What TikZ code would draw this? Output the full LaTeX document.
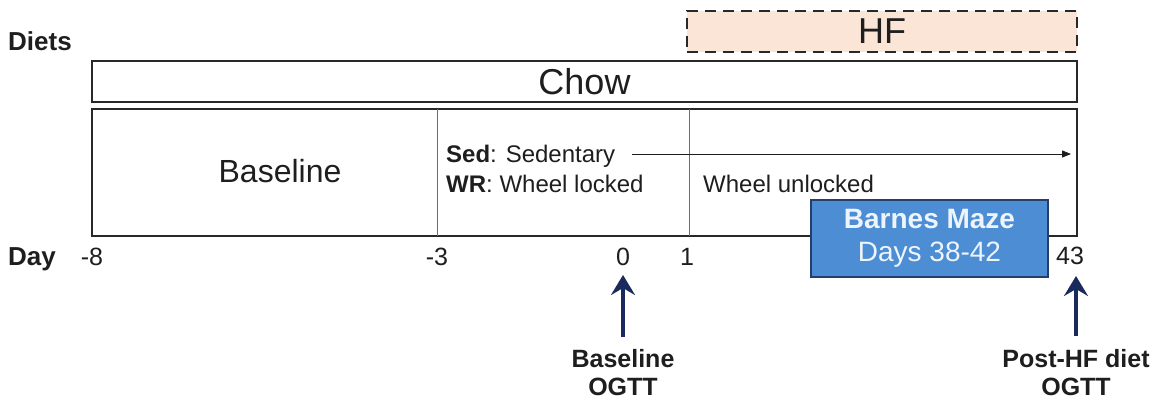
\documentclass[tikz,border=0pt]{standalone}
\usepackage{fontspec}
\setmainfont{Liberation Sans}
\usetikzlibrary{arrows.meta}
\definecolor{txt}{RGB}{30,30,30}
\definecolor{frame}{RGB}{40,40,40}
\definecolor{peach}{RGB}{251,229,214}
\definecolor{bmfill}{RGB}{76,141,212}
\definecolor{bmdraw}{RGB}{36,62,110}
\definecolor{bmtext}{RGB}{238,244,252}
\definecolor{navy}{RGB}{26,42,92}
\definecolor{divider}{RGB}{110,110,110}
\tikzset{
  lbl/.style={inner sep=0pt, text=txt},
  barbox/.style={draw=frame, line width=2.5pt, inner sep=0pt, text=txt},
  hfbox/.style={barbox, fill=peach, dash pattern=on 11pt off 7pt},
  bmbox/.style={draw=bmdraw, line width=1.5pt, fill=bmfill, text=bmtext, inner sep=0pt, align=center},
  upar/.style={draw=navy, line width=3.5pt, -{Stealth[length=20pt,width=24pt,inset=7pt]}},
  thinar/.style={draw=txt, line width=0.9pt, -{Triangle[length=9pt,width=7pt]}},
  divline/.style={draw=divider, line width=0.9pt}
}
\begin{document}
\begin{tikzpicture}[x=1pt,y=-1pt]
\useasboundingbox (0,0) rectangle (1155,402);
% labels on left
\node[lbl, anchor=base west, font=\fontsize{26}{30}\selectfont\bfseries] (diets) at (8,50) {Diets};
\node[lbl, anchor=base west, font=\fontsize{26}{30}\selectfont\bfseries] (day) at (8,265) {Day};
% diet bars
\node[hfbox, minimum width=390, minimum height=41, font=\fontsize{36}{40}\selectfont] (hf) at (882,31.5) {HF};
\node[barbox, minimum width=985, minimum height=41, font=\fontsize{36}{40}\selectfont] (chow) at (584.5,81.5) {Chow};
% main box
\node[barbox, minimum width=985, minimum height=127] (main) at (584.5,172.5) {};
\coordinate (v1t) at (437,109); \coordinate (v1b) at (437,236);
\coordinate (v2t) at (689,109); \coordinate (v2b) at (689,236);
\draw[divline] (v1t) -- (v1b);
\draw[divline] (v2t) -- (v2b);
\node[lbl, anchor=base, font=\fontsize{32}{36}\selectfont] (base) at (280,182) {Baseline};
\node[lbl, anchor=base west, font=\fontsize{24}{28}\selectfont] (sed) at (446,162) {\textbf{Sed}: Sedentary};
\node[lbl, anchor=base west, font=\fontsize{24}{28}\selectfont] (wr) at (446,192) {\textbf{WR}: Wheel locked};
\node[lbl, anchor=base west, font=\fontsize{24}{28}\selectfont] (wu) at (703,192) {Wheel unlocked};
\coordinate (sedstart) at (632,154);
\coordinate (sedend) at (1071,154);
\draw[thinar] (sedstart) -- (sedend);
% Barnes maze
\node[bmbox, minimum width=237, minimum height=77, font=\fontsize{28}{33}\selectfont] (bm) at (929.5,238.5) {\textbf{Barnes Maze}\\Days 38-42};
% day ticks
\node[lbl, anchor=base, font=\fontsize{25}{28}\selectfont] (dm8) at (92,265) {-8};
\node[lbl, anchor=base, font=\fontsize{25}{28}\selectfont] (dm3) at (437,265) {-3};
\node[lbl, anchor=base, font=\fontsize{25}{28}\selectfont] (d0) at (623,265) {0};
\node[lbl, anchor=base, font=\fontsize{25}{28}\selectfont] (d1) at (687,265) {1};
\node[lbl, anchor=base, font=\fontsize{25}{28}\selectfont] (d43) at (1070,264) {43};
% OGTT labels (base anchor = last line)
\node[lbl, anchor=base, align=center, font=\fontsize{25}{28}\selectfont\bfseries] (bo) at (623,395) {Baseline\\OGTT};
\node[lbl, anchor=base, align=center, font=\fontsize{25}{28}\selectfont\bfseries] (po) at (1076,395) {Post-HF diet\\OGTT};
\coordinate (a1s) at (623,337); \coordinate (a1e) at (623,275);
\coordinate (a2s) at (1076,336); \coordinate (a2e) at (1076,276);
\draw[upar] (a1s) -- (a1e);
\draw[upar] (a2s) -- (a2e);
\end{tikzpicture}
\end{document}
